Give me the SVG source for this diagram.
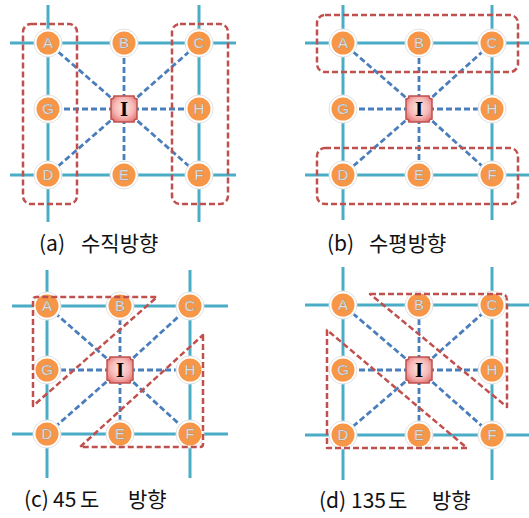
<svg xmlns="http://www.w3.org/2000/svg" width="529" height="518" viewBox="0 0 529 518">
<style>
.grid{stroke:#4bacc6;stroke-width:3;fill:none}
.link{stroke:#4a7ebb;stroke-width:2.8;stroke-dasharray:6 3;fill:none}
.grp{stroke:#c0504d;stroke-width:2.5;stroke-dasharray:6 3;fill:none;stroke-linejoin:round}
.halo{fill:#fff;stroke:#e2e2e2;stroke-width:1}
.dot{fill:#f79646}
.lbl{font-family:"Liberation Sans",sans-serif;font-size:15px;fill:#f6f6f6;stroke:#8194a8;stroke-width:0.4;text-anchor:middle}
.ibox{fill:url(#ig);stroke:#c0504d;stroke-width:1.5}
.itxt{font-family:"Liberation Serif",serif;font-size:21px;font-weight:bold;fill:#000;text-anchor:middle}
.cap{font-family:"Noto Sans CJK KR","Liberation Sans",sans-serif;font-size:21px;fill:#111}
</style>
<defs>
<radialGradient id="ig" cx="0.5" cy="0.45" r="0.6">
<stop offset="0" stop-color="#fde3e2"/>
<stop offset="0.6" stop-color="#f6b9b7"/>
<stop offset="1" stop-color="#e47b79"/>
</radialGradient>
<g id="nd"><circle class="halo" r="14"/><circle class="dot" r="11.5"/></g>
<path id="ib" class="ibox" d="M-10,-13 L10,-13 A3,3 0 0 0 13,-10 L13,10 A3,3 0 0 0 10,13 L-10,13 A3,3 0 0 0 -13,10 L-13,-10 A3,3 0 0 0 -10,-13 Z"/>
</defs>

<!-- Panel (a) -->
<g id="panel-a">
<g class="grid">
<line x1="10" y1="43" x2="236" y2="43"/><line x1="10" y1="175" x2="236" y2="175"/>
<line x1="48" y1="5" x2="48" y2="222"/><line x1="199" y1="5" x2="199" y2="222"/>
</g>
<g id="a-connectors" class="link">
<line x1="124" y1="109" x2="48" y2="43"/><line x1="124" y1="109" x2="124" y2="43"/><line x1="124" y1="109" x2="199" y2="43"/>
<line x1="124" y1="109" x2="48" y2="109"/><line x1="124" y1="109" x2="199" y2="109"/>
<line x1="124" y1="109" x2="48" y2="175"/><line x1="124" y1="109" x2="124" y2="175"/><line x1="124" y1="109" x2="199" y2="175"/>
</g>
<g id="a-A"><use href="#nd" x="48" y="43"/><text class="lbl" x="48" y="48">A</text></g>
<g id="a-B"><use href="#nd" x="124" y="43"/><text class="lbl" x="124" y="48">B</text></g>
<g id="a-C"><use href="#nd" x="199" y="43"/><text class="lbl" x="199" y="48">C</text></g>
<g id="a-G"><use href="#nd" x="48" y="109"/><text class="lbl" x="48" y="114">G</text></g>
<g id="a-H"><use href="#nd" x="199" y="109"/><text class="lbl" x="199" y="114">H</text></g>
<g id="a-D"><use href="#nd" x="48" y="175"/><text class="lbl" x="48" y="180">D</text></g>
<g id="a-E"><use href="#nd" x="124" y="175"/><text class="lbl" x="124" y="180">E</text></g>
<g id="a-F"><use href="#nd" x="199" y="175"/><text class="lbl" x="199" y="180">F</text></g>
<g id="a-I"><use href="#ib" x="124" y="109"/><text class="itxt" x="124" y="116">I</text></g>
<g id="a-groups" class="grp">
<rect x="23" y="24" width="54" height="180" rx="8"/>
<rect x="172" y="24" width="56" height="180" rx="8"/>
</g>
<text class="cap" x="39" y="251">(a)</text><text class="cap" x="81" y="251">수직방향</text>
</g>

<!-- Panel (b) -->
<g id="panel-b">
<g class="grid">
<line x1="305" y1="43" x2="529" y2="43"/><line x1="305" y1="175" x2="529" y2="175"/>
<line x1="343" y1="5" x2="343" y2="220"/><line x1="492" y1="5" x2="492" y2="220"/>
</g>
<g id="b-connectors" class="link">
<line x1="419" y1="109" x2="343" y2="43"/><line x1="419" y1="109" x2="419" y2="43"/><line x1="419" y1="109" x2="492" y2="43"/>
<line x1="419" y1="109" x2="343" y2="109"/><line x1="419" y1="109" x2="492" y2="109"/>
<line x1="419" y1="109" x2="343" y2="175"/><line x1="419" y1="109" x2="419" y2="175"/><line x1="419" y1="109" x2="492" y2="175"/>
</g>
<g id="b-A"><use href="#nd" x="343" y="43"/><text class="lbl" x="343" y="48">A</text></g>
<g id="b-B"><use href="#nd" x="419" y="43"/><text class="lbl" x="419" y="48">B</text></g>
<g id="b-C"><use href="#nd" x="492" y="43"/><text class="lbl" x="492" y="48">C</text></g>
<g id="b-G"><use href="#nd" x="343" y="109"/><text class="lbl" x="343" y="114">G</text></g>
<g id="b-H"><use href="#nd" x="492" y="109"/><text class="lbl" x="492" y="114">H</text></g>
<g id="b-D"><use href="#nd" x="343" y="175"/><text class="lbl" x="343" y="180">D</text></g>
<g id="b-E"><use href="#nd" x="419" y="175"/><text class="lbl" x="419" y="180">E</text></g>
<g id="b-F"><use href="#nd" x="492" y="175"/><text class="lbl" x="492" y="180">F</text></g>
<g id="b-I"><use href="#ib" x="419" y="109"/><text class="itxt" x="419" y="116">I</text></g>
<g id="b-groups" class="grp">
<rect x="317" y="15" width="201" height="57" rx="8"/>
<rect x="317" y="148" width="201" height="56" rx="8"/>
</g>
<text class="cap" x="327" y="251">(b)</text><text class="cap" x="369" y="251">수평방향</text>
</g>

<!-- Panel (c) -->
<g id="panel-c">
<g class="grid">
<line x1="12" y1="306" x2="228" y2="306"/><line x1="12" y1="434" x2="228" y2="434"/>
<line x1="47" y1="270" x2="47" y2="478"/><line x1="190" y1="270" x2="190" y2="478"/>
</g>
<g id="c-connectors" class="link">
<line x1="120" y1="370" x2="47" y2="306"/><line x1="120" y1="370" x2="120" y2="306"/><line x1="120" y1="370" x2="190" y2="306"/>
<line x1="120" y1="370" x2="47" y2="370"/><line x1="120" y1="370" x2="190" y2="370"/>
<line x1="120" y1="370" x2="47" y2="434"/><line x1="120" y1="370" x2="120" y2="434"/><line x1="120" y1="370" x2="190" y2="434"/>
</g>
<g id="c-A"><use href="#nd" x="47" y="306"/><text class="lbl" x="47" y="311">A</text></g>
<g id="c-B"><use href="#nd" x="120" y="306"/><text class="lbl" x="120" y="311">B</text></g>
<g id="c-C"><use href="#nd" x="190" y="306"/><text class="lbl" x="190" y="311">C</text></g>
<g id="c-G"><use href="#nd" x="47" y="370"/><text class="lbl" x="47" y="375">G</text></g>
<g id="c-H"><use href="#nd" x="190" y="370"/><text class="lbl" x="190" y="375">H</text></g>
<g id="c-D"><use href="#nd" x="47" y="434"/><text class="lbl" x="47" y="439">D</text></g>
<g id="c-E"><use href="#nd" x="120" y="434"/><text class="lbl" x="120" y="439">E</text></g>
<g id="c-F"><use href="#nd" x="190" y="434"/><text class="lbl" x="190" y="439">F</text></g>
<g id="c-I"><use href="#ib" x="120" y="370"/><text class="itxt" x="120" y="377">I</text></g>
<g id="c-groups" class="grp">
<path d="M33,406 L33,300 Q33,297 36,297 L157,297 Z"/>
<path d="M203,335 L203,444 Q203,447 200,447 L80,447 Z"/>
</g>
<text class="cap" x="24" y="507">(c)</text><text class="cap" x="53" y="507">45</text><text class="cap" x="80" y="507">도</text><text class="cap" x="128" y="507">방향</text>
</g>

<!-- Panel (d) -->
<g id="panel-d">
<g class="grid">
<line x1="305" y1="305" x2="529" y2="305"/><line x1="305" y1="435" x2="529" y2="435"/>
<line x1="343" y1="267" x2="343" y2="480"/><line x1="492" y1="267" x2="492" y2="480"/>
</g>
<g id="d-connectors" class="link">
<line x1="419" y1="370" x2="343" y2="305"/><line x1="419" y1="370" x2="419" y2="305"/><line x1="419" y1="370" x2="492" y2="305"/>
<line x1="419" y1="370" x2="343" y2="370"/><line x1="419" y1="370" x2="492" y2="370"/>
<line x1="419" y1="370" x2="343" y2="435"/><line x1="419" y1="370" x2="419" y2="435"/><line x1="419" y1="370" x2="492" y2="435"/>
</g>
<g id="d-A"><use href="#nd" x="343" y="305"/><text class="lbl" x="343" y="310">A</text></g>
<g id="d-B"><use href="#nd" x="419" y="305"/><text class="lbl" x="419" y="310">B</text></g>
<g id="d-C"><use href="#nd" x="492" y="305"/><text class="lbl" x="492" y="310">C</text></g>
<g id="d-G"><use href="#nd" x="343" y="370"/><text class="lbl" x="343" y="375">G</text></g>
<g id="d-H"><use href="#nd" x="492" y="370"/><text class="lbl" x="492" y="375">H</text></g>
<g id="d-D"><use href="#nd" x="343" y="435"/><text class="lbl" x="343" y="440">D</text></g>
<g id="d-E"><use href="#nd" x="419" y="435"/><text class="lbl" x="419" y="440">E</text></g>
<g id="d-F"><use href="#nd" x="492" y="435"/><text class="lbl" x="492" y="440">F</text></g>
<g id="d-I"><use href="#ib" x="419" y="370"/><text class="itxt" x="419" y="377">I</text></g>
<g id="d-groups" class="grp">
<path d="M370,294 L501,294 Q507,294 507,300 L507,407 Z"/>
<path d="M327,330 L327,448 L467,448 Z"/>
</g>
<text class="cap" x="319" y="508">(d)</text><text class="cap" x="351" y="508">135</text><text class="cap" x="388" y="508">도</text><text class="cap" x="432" y="508">방향</text>
</g>
</svg>
